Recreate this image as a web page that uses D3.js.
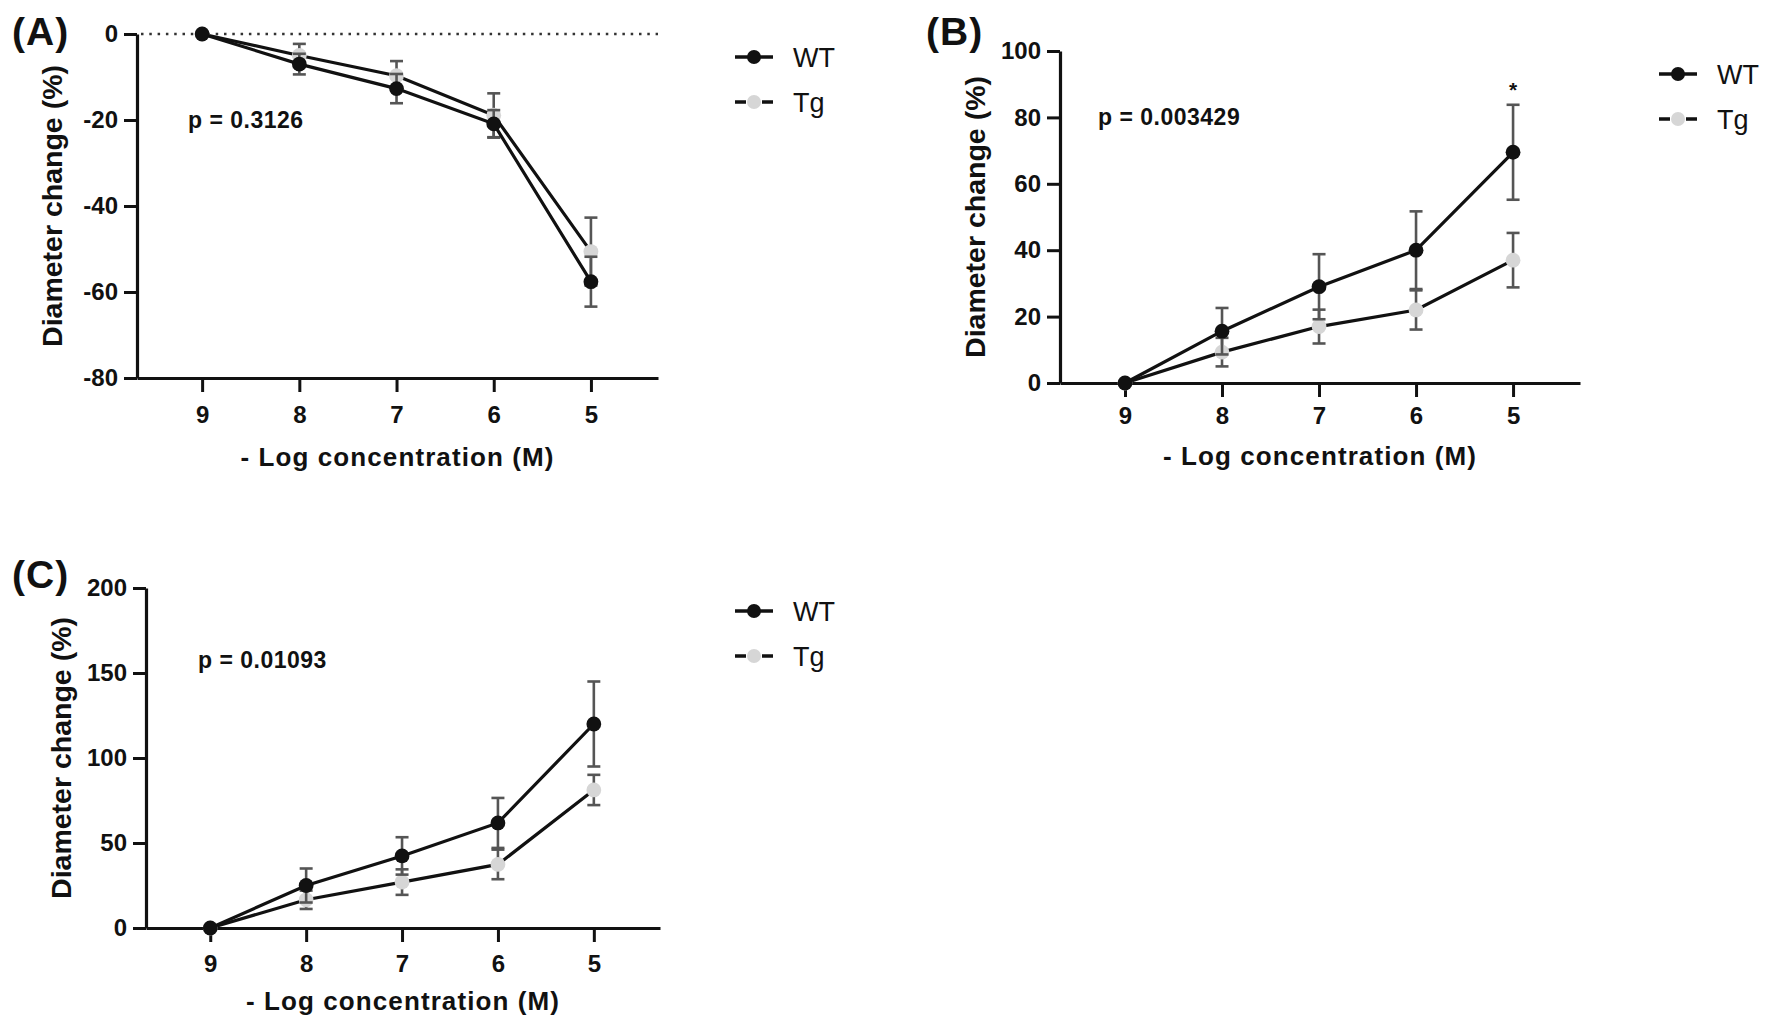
<!DOCTYPE html>
<html>
<head>
<meta charset="utf-8">
<script src="https://cdn.jsdelivr.net/npm/d3@7"></script>
<style>
  body { margin: 0; background: #fff; }
  svg { display: block; font-family: "Liberation Sans", Arial, sans-serif; }
</style>
</head>
<body>
<svg id="chart" width="1772" height="1030"></svg>
<script>
// -log concentration (M)
const concentrations = [9, 8, 7, 6, 5];
const seriesNames = ['WT', 'Tg'];

// panel A
const wtA = [0, -7, -12.7, -20.9, -57.6];
const wtErrA = [0, 2.4, 3.4, 3.2, 5.8];
const tgA = [0, -5, -9.7, -18.9, -50.6];
const tgErrA = [0, 2.7, 3.4, 5.1, 7.9];
const ticksA = [0, -20, -40, -60, -80];

// panel B
const wtB = [0, 15.6, 29, 40, 69.5];
const wtErrB = [0, 7, 9.8, 11.7, 14.3];
const tgB = [0, 9.3, 17, 22, 37];
const tgErrB = [0, 4.3, 5.1, 5.9, 8.2];
const ticksB = [0, 20, 40, 60, 80, 100];

// panel C
const wtC = [0, 25, 42.4, 61.8, 120];
const wtErrC = [0, 10, 11, 14.7, 25];
const tgC = [0, 16.6, 27, 37.4, 81.2];
const tgErrC = [0, 5.4, 7.5, 8.7, 8.9];
const ticksC = [0, 50, 100, 150, 200];

const pValues = ['p = 0.3126', 'p = 0.003429', 'p = 0.01093'];

const panels = [
    {label: '(A)', lx: 12, ly: 45, x0: 137, x1: 658, yTop: 34, yBot: 378,
     domain: [-80, 0], ticks: ticksA, wt: wtA, wtErr: wtErrA, tg: tgA, tgErr: tgErrA,
     p: pValues[0], px: 188, py: 128, legX: 754, zeroLine: true, tickPad: 14, titleDy: 88},
    {label: '(B)', lx: 926, ly: 45, x0: 1060, x1: 1580, yTop: 51, yBot: 383,
     domain: [0, 100], ticks: ticksB, wt: wtB, wtErr: wtErrB, tg: tgB, tgErr: tgErrB,
     p: pValues[1], px: 1098, py: 125, legX: 1678, star: 4, tickPad: 10, titleDy: 82},
    {label: '(C)', lx: 12, ly: 588, x0: 146, x1: 660, yTop: 588, yBot: 928,
     domain: [0, 200], ticks: ticksC, wt: wtC, wtErr: wtErrC, tg: tgC, tgErr: tgErrC,
     p: pValues[2], px: 198, py: 668, legX: 754, tickPad: 13, titleDy: 82}
];

const svg = d3.select('#chart');
const ink = '#111';
const barColor = '#555';
const tgFill = '#d6d6d6';

panels.forEach(p => {
    let g = svg.append('g');

    let x = d3.scaleLinear().domain([9.67, 4.31]).range([p.x0, p.x1]);
    let y = d3.scaleLinear().domain(p.domain).range([p.yBot, p.yTop]);

    // dotted baseline at 0 (only panel A, where 0 is the top)
    if (p.zeroLine) {
        g.append('line')
            .attr('x1', p.x0 + 4).attr('x2', p.x1)
            .attr('y1', y(0)).attr('y2', y(0))
            .attr('stroke', '#333').attr('stroke-width', 2.5)
            .attr('stroke-dasharray', '2.5,5.8');
    }

    // axes (plain hyphen for negatives, like the original)
    let yAxis = g.append('g')
        .attr('transform', 'translate(' + p.x0 + ',0)')
        .call(d3.axisLeft(y).tickValues(p.ticks).tickSize(13).tickPadding(6).tickSizeOuter(0)
            .tickFormat(d => String(d)));
    let xAxis = g.append('g')
        .attr('transform', 'translate(0,' + p.yBot + ')')
        .call(d3.axisBottom(x).tickValues(concentrations).tickSize(14).tickPadding(p.tickPad)
            .tickSizeOuter(0).tickFormat(d => String(d)));

    [xAxis, yAxis].forEach(a => {
        a.select('.domain').attr('stroke', ink).attr('stroke-width', 3.2);
        a.selectAll('.tick line').attr('stroke', ink).attr('stroke-width', 3);
        a.selectAll('.tick text')
            .attr('fill', ink)
            .style('font-size', '24px')
            .style('font-weight', 'bold');
    });

    // axis titles
    g.append('text')
        .attr('x', (p.x0 + p.x1) / 2)
        .attr('y', p.yBot + p.titleDy)
        .attr('text-anchor', 'middle')
        .style('font-size', '26px').style('font-weight', 'bold')
        .style('letter-spacing', '1.1px')
        .attr('fill', ink)
        .text('- Log concentration (M)');

    g.append('text')
        .attr('transform', 'translate(' + (p.x0 - 75) + ',' + ((p.yTop + p.yBot) / 2) + ') rotate(-90)')
        .attr('text-anchor', 'middle')
        .style('font-size', '28.5px').style('font-weight', 'bold')
        .attr('fill', ink)
        .text('Diameter change (%)');

    // panel letter
    g.append('text')
        .attr('x', p.lx).attr('y', p.ly)
        .style('font-size', '39px').style('font-weight', 'bold')
        .style('letter-spacing', '1px')
        .attr('fill', ink)
        .text(p.label);

    // p value
    g.append('text')
        .attr('x', p.px).attr('y', p.py)
        .style('font-size', '23px').style('font-weight', 'bold')
        .style('letter-spacing', '0.5px')
        .attr('fill', ink)
        .text(p.p);

    let sets = [
        {vals: p.tg, errs: p.tgErr, fill: tgFill},
        {vals: p.wt, errs: p.wtErr, fill: ink}
    ];

    let line = d3.line()
        .x((d, i) => x(concentrations[i]))
        .y(d => y(d));

    sets.forEach(s => {
        let pts = s.vals.map((v, i) => ({c: concentrations[i], v: v, e: s.errs[i]}))
        let bars = g.append('g').selectAll('g').data(pts.filter(d => d.e > 0)).enter().append('g')
            .attr('stroke', barColor).attr('stroke-width', 2.6);
        bars.append('line')
            .attr('x1', d => x(d.c)).attr('x2', d => x(d.c))
            .attr('y1', d => y(d.v - d.e)).attr('y2', d => y(d.v + d.e));
        [-1, 1].forEach(sign => {
            bars.append('line')
                .attr('x1', d => x(d.c) - 6.5).attr('x2', d => x(d.c) + 6.5)
                .attr('y1', d => y(d.v + sign * d.e)).attr('y2', d => y(d.v + sign * d.e));
        });

        g.append('path')
            .datum(s.vals)
            .attr('d', line)
            .attr('fill', 'none')
            .attr('stroke', ink)
            .attr('stroke-width', 3.2);

        g.append('g').selectAll('circle').data(pts).enter().append('circle')
            .attr('cx', d => x(d.c))
            .attr('cy', d => y(d.v))
            .attr('r', 7.4)
            .attr('fill', s.fill);
    });

    // significance mark
    if (p.star != null) {
        let i = p.star;
        g.append('text')
            .attr('x', x(concentrations[i]))
            .attr('y', y(p.wt[i] + p.wtErr[i]) - 8)
            .attr('text-anchor', 'middle')
            .style('font-size', '21px').style('font-weight', 'bold')
            .attr('fill', ink)
            .text('*');
    }

    // legend
    let leg = g.append('g');
    [{name: seriesNames[0], fill: ink, dy: 23}, {name: seriesNames[1], fill: tgFill, dy: 68}].forEach(d => {
        let cy = p.yTop + d.dy;
        leg.append('line')
            .attr('x1', p.legX - 19).attr('x2', p.legX + 19)
            .attr('y1', cy).attr('y2', cy)
            .attr('stroke', ink).attr('stroke-width', 3.5)
            .attr('stroke-dasharray', d.name == 'Tg' ? '11,16,11' : null);
        leg.append('circle')
            .attr('cx', p.legX).attr('cy', cy).attr('r', 7)
            .attr('fill', d.fill);
        leg.append('text')
            .attr('x', p.legX + 39).attr('y', cy + 10)
            .style('font-size', '27px')
            .attr('fill', ink)
            .text(d.name);
    });
});
</script>
</body>
</html>
